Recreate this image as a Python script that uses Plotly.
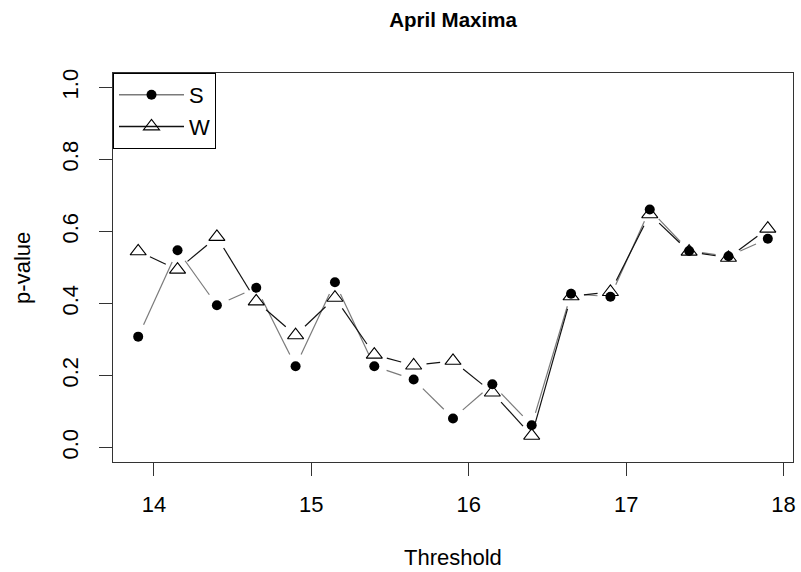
import math
import plotly.graph_objects as go

# ---- data ----
threshold = [13.9, 14.15, 14.4, 14.65, 14.9, 15.15, 15.4, 15.65, 15.9,
             16.15, 16.4, 16.65, 16.9, 17.15, 17.4, 17.65, 17.9]
p_S = [0.308, 0.548, 0.395, 0.444, 0.226, 0.459, 0.226, 0.189, 0.081,
       0.176, 0.062, 0.427, 0.419, 0.661, 0.546, 0.531, 0.580]
p_W = [0.545, 0.494, 0.585, 0.406, 0.312, 0.416, 0.258, 0.228, 0.241,
       0.153, 0.033, 0.420, 0.432, 0.648, 0.544, 0.527, 0.608]
series_names = ["S", "W"]
x_ticks = [14, 15, 16, 17, 18]
y_ticks = [0.0, 0.2, 0.4, 0.6, 0.8, 1.0]
y_tick_text = ["0.0", "0.2", "0.4", "0.6", "0.8", "1.0"]

# ---- layout geometry ----
W, H = 801, 572
ML, MR, MT, MB = 113, 5, 73, 110
xr = [13.74, 18.06]
yr = [-0.04, 1.04]
pw = W - ML - MR
ph = H - MT - MB
sx = pw / (xr[1] - xr[0])
sy = ph / (yr[1] - yr[0])
GAP = 13  # px gap around points, like R type="b"


def gapped(xs, ys):
    gx, gy = [], []
    for i in range(len(xs) - 1):
        dx = (xs[i + 1] - xs[i]) * sx
        dy = (ys[i + 1] - ys[i]) * sy
        d = math.hypot(dx, dy)
        if d <= 2 * GAP:
            continue
        f = GAP / d
        gx += [xs[i] + (xs[i + 1] - xs[i]) * f, xs[i + 1] - (xs[i + 1] - xs[i]) * f, None]
        gy += [ys[i] + (ys[i + 1] - ys[i]) * f, ys[i + 1] - (ys[i + 1] - ys[i]) * f, None]
    return gx, gy


def sep(vals):
    out = []
    for v in vals:
        out += [v, None]
    return out


fig = go.Figure()
styles = {
    "S": dict(line="#7a7a7a", symbol="circle", size=10, mcolor="black", mline=0),
    "W": dict(line="#111111", symbol="triangle-up-open", size=14, mcolor="black", mline=1.1),
}
for name, ys in zip(series_names, [p_S, p_W]):
    st = styles[name]
    gx, gy = gapped(threshold, ys)
    fig.add_trace(go.Scatter(x=gx, y=gy, mode="lines", showlegend=False,
                             line=dict(color=st["line"], width=1.2), hoverinfo="skip"))
    fig.add_trace(go.Scatter(x=sep(threshold), y=sep(ys), mode="lines+markers", name=name,
                             connectgaps=False,
                             line=dict(color=st["line"], width=1.5),
                             marker=dict(symbol=st["symbol"], size=st["size"], color=st["mcolor"],
                                         line=dict(color="black", width=st["mline"]))))

font = "Liberation Sans, Arial, sans-serif"
FS = 22
fig.update_layout(
    width=W, height=H, autosize=False,
    margin=dict(l=ML, r=MR, t=MT, b=MB),
    paper_bgcolor="white", plot_bgcolor="white",
    font=dict(family=font, size=FS, color="black"),
    title=dict(text="<b>April Maxima</b>", x=0.5, xref="paper", xanchor="center",
               y=1 - 20 / H, yref="container", yanchor="middle",
               font=dict(family=font, size=20.5, color="black")),
    showlegend=True,
    legend=dict(x=0, y=1, xanchor="left", yanchor="top", bgcolor="white",
                bordercolor="black", borderwidth=1, font=dict(size=FS),
                itemwidth=65, tracegroupgap=0, entrywidth=98, entrywidthmode="pixels"),
    xaxis=dict(range=xr, tickmode="array", tickvals=x_ticks, ticks="outside", ticklen=13,
               tickcolor="#333", showgrid=False, zeroline=False, showline=True,
               linecolor="#333", linewidth=1, mirror=True, ticklabelstandoff=10),
    yaxis=dict(range=yr, tickmode="array", tickvals=y_ticks, ticktext=y_tick_text,
               ticks="outside", ticklen=13, tickcolor="#333", tickangle=-90,
               showgrid=False, zeroline=False, showline=True, linecolor="#333",
               linewidth=1, mirror=True, ticklabelstandoff=12),
    annotations=[
        dict(text="Threshold", xref="paper", yref="paper", x=0.5, y=-(557 - (MT + ph)) / ph,
             showarrow=False, xanchor="center", yanchor="middle", font=dict(size=FS)),
        dict(text="p-value", xref="paper", yref="paper", x=-(ML - 22) / pw, y=0.5,
             textangle=-90, showarrow=False, xanchor="center", yanchor="middle",
             font=dict(size=FS)),
    ],
)

fig.write_html("out.html")
